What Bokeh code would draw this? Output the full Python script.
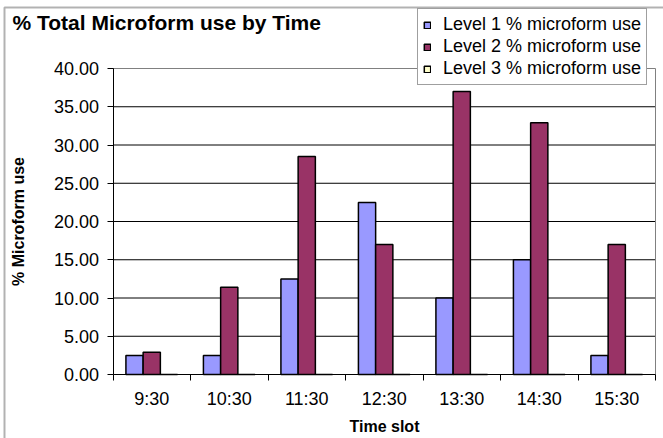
from bokeh.plotting import figure
from bokeh.models import (ColumnDataSource, FixedTicker, NumeralTickFormatter, Legend,
                          LegendItem, Label, Range1d, BoxAnnotation)
from bokeh.embed import file_html
from bokeh.resources import INLINE

# ---- data ----
time_slots = ["9:30", "10:30", "11:30", "12:30", "13:30", "14:30", "15:30"]
level1 = [2.5, 2.5, 12.5, 22.5, 10.0, 15.0, 2.5]
level2 = [2.9, 11.4, 28.5, 17.0, 37.0, 32.9, 17.0]
level3 = [0.0, 0.0, 0.0, 0.0, 0.0, 0.0, 0.0]
series_names = ["Level 1 % microform use", "Level 2 % microform use", "Level 3 % microform use"]
y_ticks = [0, 5, 10, 15, 20, 25, 30, 35, 40]
y_max = 40

colors = ["#9999FF", "#993366", "#FFFFCC"]
FONT = "Liberation Sans"

# ---- layout (pixels) ----
W, H = 663, 438
PL, PR, PT, PB = 112.5, 655.0, 68.0, 374.0   # plot-area box on the canvas

n = len(time_slots)
gap = 1.5  # Excel gap width 150%
nser = 3
bw = 1.0 / (nser + gap)
centers = [i + 0.5 for i in range(n)]

xpx = (PR - PL) / n
ypx = (PB - PT) / y_max
x_range = Range1d(-PL / xpx, n + (W - PR) / xpx)
y_range = Range1d(-(H - PB) / ypx, y_max + PT / ypx)

p = figure(width=W, height=H, output_backend="svg", toolbar_location=None,
           x_range=x_range, y_range=y_range,
           min_border_left=0, min_border_right=0, min_border_top=0, min_border_bottom=0)

p.background_fill_color = "white"
p.border_fill_color = "white"
p.outline_line_color = None
p.xgrid.visible = False
p.ygrid.visible = False

# horizontal grid lines across the plot area (inner ones black, top one grey)
inner = y_ticks[1:-1]
p.segment(x0=[0] * len(inner), x1=[n] * len(inner), y0=inner, y1=inner,
          line_color="black", line_width=1)
p.segment(x0=[0], x1=[n], y0=[y_max], y1=[y_max], line_color="#808080", line_width=1)
p.segment(x0=[n], x1=[n], y0=[0], y1=[y_max], line_color="#808080", line_width=1)

renderers = []
for k, vals in enumerate([level1, level2, level3]):
    xs = [i + (gap / 2 + k + 0.5) * bw for i in range(n)]
    src = ColumnDataSource(dict(x=xs, top=vals))
    r = p.vbar(x="x", top="top", width=bw, bottom=0, source=src,
               fill_color=colors[k], line_color="black", line_width=1.5)
    renderers.append(r)

# y axis
p.yaxis.fixed_location = 0
p.yaxis.bounds = (0, y_max)
p.yaxis.ticker = FixedTicker(ticks=y_ticks)
p.yaxis.formatter = NumeralTickFormatter(format="0.00")
p.yaxis.major_tick_out = 6
p.yaxis.major_tick_in = 0
p.yaxis.minor_tick_line_color = None
p.yaxis.axis_line_color = "black"
p.yaxis.major_tick_line_color = "black"
p.yaxis.major_label_text_font = FONT
p.yaxis.major_label_text_font_size = "18px"
p.yaxis.major_label_text_color = "black"
p.yaxis.major_label_standoff = 8
p.yaxis.axis_label = "% Microform use"
p.yaxis.axis_label_text_font = FONT
p.yaxis.axis_label_text_font_size = "16px"
p.yaxis.axis_label_text_font_style = "bold"
p.yaxis.axis_label_text_color = "black"
p.yaxis.axis_label_standoff = 24

# x axis
p.xaxis.fixed_location = 0
p.xaxis.bounds = (0, n)
p.xaxis.ticker = FixedTicker(ticks=centers, minor_ticks=list(range(n + 1)))
p.xaxis.major_label_overrides = {c: t for c, t in zip(centers, time_slots)}
p.xaxis.major_tick_out = 0
p.xaxis.major_tick_in = 0
p.xaxis.minor_tick_out = 6
p.xaxis.minor_tick_in = 0
p.xaxis.minor_tick_line_color = "black"
p.xaxis.axis_line_color = "black"
p.xaxis.major_label_text_font = FONT
p.xaxis.major_label_text_font_size = "18px"
p.xaxis.major_label_text_color = "black"
p.xaxis.major_label_standoff = 8
p.xaxis.axis_label = "Time slot"
p.xaxis.axis_label_text_font = FONT
p.xaxis.axis_label_text_font_size = "16px"
p.xaxis.axis_label_text_font_style = "bold"
p.xaxis.axis_label_text_color = "black"
p.xaxis.axis_label_standoff = 6

# legend
legend = Legend(items=[LegendItem(label=series_names[k], renderers=[renderers[k]]) for k in range(3)],
                location=(417, H - 85), orientation="vertical")
legend.label_text_font = FONT
legend.label_text_font_size = "18px"
legend.label_text_color = "black"
legend.glyph_width = 8
legend.glyph_height = 8
legend.label_standoff = 12
legend.label_height = 17
legend.spacing = 1
legend.padding = 5
legend.margin = 0
legend.border_line_color = "#404040"
legend.border_line_width = 1
legend.background_fill_color = "white"
legend.background_fill_alpha = 1
p.add_layout(legend, "center")

# title
title = Label(x=12, y=H - 22, x_units="screen", y_units="screen", text="% Total Microform use by Time",
              text_font=FONT, text_font_size="21px", text_font_style="bold", text_color="black",
              text_baseline="middle")
p.add_layout(title)

# outer chart border (left and top edges visible)
border = BoxAnnotation(left=4, right=W + 50, top=H - 7, bottom=-50,
                       left_units="screen", right_units="screen", top_units="screen", bottom_units="screen",
                       fill_alpha=0, line_color="black", line_width=2)
p.add_layout(border)

open("out.html", "w").write(file_html(p, INLINE))
